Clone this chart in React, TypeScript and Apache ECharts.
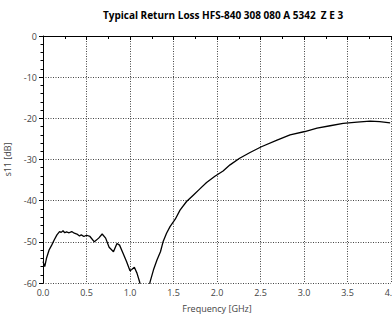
import React, { useEffect, useRef } from "react";
import * as echarts from "echarts";

const titleText = "Typical Return Loss HFS-840 308 080 A 5342  Z E 3";
const xName = "Frequency [GHz]";
const yName = "s11 [dB]";

// frequency in GHz
const freqs = [
  0.0, 0.02, 0.04, 0.07, 0.1, 0.13, 0.16, 0.19, 0.21, 0.23, 0.25, 0.27, 0.3, 0.33, 0.36, 0.39, 0.42, 0.44, 0.47, 0.5,
  0.54, 0.59, 0.64, 0.68, 0.72, 0.76, 0.81, 0.85, 0.88, 0.92, 0.96, 1.0, 1.02, 1.05, 1.08, 1.11,
  1.14, 1.17, 1.2, 1.23, 1.27, 1.31, 1.35, 1.38, 1.42, 1.46, 1.52, 1.575, 1.65, 1.73, 1.8, 1.88,
  1.98, 2.07, 2.15, 2.26, 2.38, 2.51, 2.69, 2.84, 3.01, 3.15, 3.3, 3.45, 3.61, 3.76, 3.87, 3.99,
];
// s11 in dB
const s11 = [
  -54.8, -56.0, -54.0, -52.0, -50.8, -49.5, -48.3, -47.5, -47.7, -47.3, -47.8, -47.6, -47.8, -47.5, -47.9, -48.1, -48.6, -48.3, -48.7, -48.4,
  -48.7, -50.0, -49.1, -48.1, -49.1, -51.3, -52.4, -50.4, -50.8, -52.8, -54.8, -57.0, -56.7, -56.2, -57.6, -59.7,
  -62.5, -64.0, -63.0, -59.8, -56.8, -54.4, -52.4, -50.0, -47.9, -46.3, -44.5, -42.3, -40.2, -38.6, -37.2, -35.6,
  -34.0, -32.8, -31.3, -29.7, -28.3, -26.9, -25.3, -24.0, -23.2, -22.4, -21.8, -21.2, -20.9, -20.7, -20.8, -21.1,
];

const FONT = "'Open Sans', 'Noto Sans', sans-serif";

export default function App() {
  const ref = useRef<HTMLDivElement>(null);
  useEffect(() => {
    if (!ref.current) return;
    const chart = echarts.init(ref.current, undefined, { renderer: "svg" });
    chart.setOption({
      animation: false,
      backgroundColor: "#ffffff",
      title: {
        text: titleText,
        left: 218,
        textAlign: "center",
        top: 5,
        textStyle: { fontFamily: FONT, fontSize: 10, fontWeight: "bold", color: "#000" },
      },
      grid: { left: 43, right: 1, top: 36, bottom: 34, containLabel: false, outerBoundsMode: "none" },
      xAxis: {
        type: "value",
        min: 0,
        max: 4,
        interval: 0.5,
        name: xName,
        nameLocation: "middle",
        nameGap: 21,
        nameTextStyle: { fontFamily: FONT, fontSize: 9, color: "#444" },
        axisLine: { show: true, lineStyle: { color: "#000", width: 1 } },
        axisTick: { show: true, length: 4, lineStyle: { color: "#000" } },
        minorTick: { show: true, splitNumber: 2, length: 3, lineStyle: { color: "#000" } },
        axisLabel: {
          fontFamily: FONT,
          fontSize: 9,
          color: "#444",
          margin: 5,
          hideOverlap: false,
          formatter: (v: number) => v.toFixed(1),
        },
        splitLine: { show: true, lineStyle: { color: "#444", type: [1, 1.5], width: 1 } },
      },
      yAxis: {
        type: "value",
        min: -60,
        max: 0,
        interval: 10,
        name: yName,
        nameLocation: "middle",
        nameRotate: 90,
        nameGap: 31,
        nameTextStyle: { fontFamily: FONT, fontSize: 9, color: "#444" },
        axisLine: { show: true, lineStyle: { color: "#000", width: 1 } },
        axisTick: { show: true, length: 4, lineStyle: { color: "#000" } },
        minorTick: { show: true, splitNumber: 5, length: 2.5, lineStyle: { color: "#000" } },
        axisLabel: { fontFamily: FONT, fontSize: 9, color: "#444", margin: 6 },
        splitLine: { show: true, lineStyle: { color: "#444", type: [1, 1.5], width: 1 } },
      },
      series: [
        {
          type: "line",
          data: freqs.map((f, i) => [f, s11[i]]),
          showSymbol: false,
          clip: true,
          lineStyle: { color: "#000", width: 1.3 },
        },
      ],
    });
    return () => chart.dispose();
  }, []);
  return <div ref={ref} style={{ width: 392, height: 317, position: "absolute", left: 0, top: 0 }} />;
}
